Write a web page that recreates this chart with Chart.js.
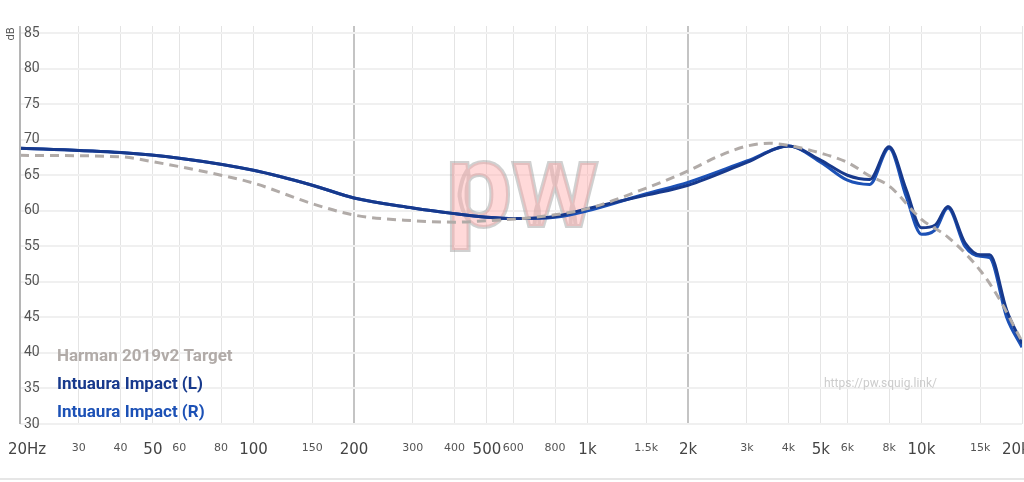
<!DOCTYPE html>
<html>
<head>
<meta charset="utf-8">
<script src="https://cdn.jsdelivr.net/npm/chart.js@4.4.1/dist/chart.umd.min.js"></script>
<style>
  html, body { margin: 0; padding: 0; background: #fff; }
  canvas { display: block; }
</style>
</head>
<body>
<canvas id="fr" width="1024" height="482"></canvas>
<script>
// Frequency response graph (squig.link style)

const targetFreq = [20, 40, 50, 80, 100, 150, 200, 300, 400, 500, 700, 1000, 1500, 2000, 2500, 3000, 3500, 4000, 5000, 6000, 7000, 8000, 10000, 12000, 15000, 17000, 20000];
const targetDb   = [67.8, 67.6, 66.9, 65.0, 63.9, 61.0, 59.4, 58.6, 58.4, 58.6, 59.1, 60.3, 63.2, 65.6, 67.8, 69.1, 69.5, 69.2, 68.1, 66.8, 64.9, 63.5, 58.8, 56.3, 51.6, 47.8, 41.6];

const measFreq = [20, 40, 60, 100, 150, 200, 300, 400, 500, 600, 800, 1000, 1500, 2000, 3000, 4000, 5000, 6000, 7000, 8000, 9000, 10000, 11000, 12000, 13500, 15000, 16000, 18000, 20000];
const leftDb   = [68.8, 68.2, 67.4, 65.7, 63.6, 61.8, 60.4, 59.6, 59.1, 58.9, 59.2, 60.3, 62.2, 63.6, 66.8, 69.1, 67.1, 65.0, 64.4, 69.0, 63.0, 57.6, 58.0, 60.6, 55.5, 53.8, 53.8, 46.0, 41.3];
const rightDb  = [68.8, 68.2, 67.4, 65.7, 63.6, 61.8, 60.4, 59.6, 59.1, 58.9, 59.1, 60.0, 62.4, 64.0, 67.0, 69.1, 66.8, 64.3, 63.7, 68.8, 62.0, 56.7, 57.3, 60.4, 55.0, 53.6, 53.4, 45.0, 40.8];

const xTicks  = [20, 30, 40, 50, 60, 80, 100, 150, 200, 300, 400, 500, 600, 800, 1000, 1500, 2000, 3000, 4000, 5000, 6000, 8000, 10000, 15000, 20000];
const xLabels = ['20Hz', '30', '40', '50', '60', '80', '100', '150', '200', '300', '400', '500', '600', '800', '1k', '1.5k', '2k', '3k', '4k', '5k', '6k', '8k', '10k', '15k', '20kHz'];
const majorTicks = [20, 50, 100, 200, 500, 1000, 2000, 5000, 10000, 20000];
const yTicks = [30, 35, 40, 45, 50, 55, 60, 65, 70, 75, 80, 85];

const legendNames = ['Harman 2019v2 Target', 'Intuaura Impact (L)', 'Intuaura Impact (R)'];
const COLORS = ['#b1aba8', '#17398c', '#1c51b6'];
const FONT = 'Roboto, "Open Sans", sans-serif';

const pts = (fs, ds) => fs.map((f, i) => ({ x: f, y: ds[i] }));

const overlay = {
  id: 'overlay',
  beforeDatasetsDraw(chart) {
    const { ctx } = chart;
    ctx.save();
    // watermark logo
    ctx.font = 'bold 118px ' + FONT;
    ctx.textAlign = 'center';
    ctx.textBaseline = 'middle';
    ctx.lineWidth = 4;
    ctx.strokeStyle = 'rgba(150,150,150,0.45)';
    ctx.strokeText('pw', 522, 196);
    ctx.fillStyle = 'rgba(255,170,170,0.45)';
    ctx.fillText('pw', 522, 196);
    ctx.restore();
  },
  afterDraw(chart) {
    const { ctx, chartArea: a, scales: { x, y } } = chart;
    ctx.save();
    // y labels inside the area
    ctx.fillStyle = '#555';
    ctx.font = '14px ' + FONT;
    ctx.textAlign = 'left';
    ctx.textBaseline = 'middle';
    yTicks.forEach((v) => ctx.fillText(String(v), 24, y.getPixelForValue(v)));
    // dB label
    ctx.save();
    ctx.translate(11, 34);
    ctx.rotate(-Math.PI / 2);
    ctx.font = '11px ' + FONT;
    ctx.textAlign = 'center';
    ctx.fillText('dB', 0, 0);
    ctx.restore();
    // x labels
    ctx.textBaseline = 'middle';
    xTicks.forEach((f, i) => {
      const major = majorTicks.includes(f);
      ctx.font = (major ? '15px ' : '11px ') + 'DejaVu Sans, sans-serif';
      ctx.fillStyle = major ? '#444' : '#555';
      let px = x.getPixelForValue(f);
      if (i === 0) { ctx.textAlign = 'left'; px = 8; }
      else if (i === xTicks.length - 1) { ctx.textAlign = 'left'; px = 1002; }
      else ctx.textAlign = 'center';
      ctx.fillText(xLabels[i], px, major ? 450 : 448);
    });
    // legend
    ctx.font = 'bold 17px ' + FONT;
    ctx.textAlign = 'left';
    legendNames.forEach((n, i) => {
      ctx.fillStyle = COLORS[i];
      ctx.fillText(n, 57, 357 + i * 28);
    });
    // url
    ctx.font = '12px ' + FONT;
    ctx.fillStyle = '#ccc';
    ctx.fillText('https://pw.squig.link/', 824, 384);
    // axis line + bottom separator
    ctx.strokeStyle = '#b5b5b5';
    ctx.lineWidth = 2;
    ctx.beginPath(); ctx.moveTo(20, 26); ctx.lineTo(20, a.bottom); ctx.stroke();
    ctx.strokeStyle = '#e6e6e6';
    ctx.beginPath(); ctx.moveTo(0, 479); ctx.lineTo(1024, 479); ctx.stroke();
    ctx.restore();
  },
};

new Chart(document.getElementById('fr'), {
  type: 'line',
  data: {
    datasets: [
      { label: legendNames[0], data: pts(targetFreq, targetDb), borderColor: COLORS[0], borderDash: [9, 6], borderWidth: 3, pointRadius: 0, cubicInterpolationMode: 'monotone' },
      { label: legendNames[1], data: pts(measFreq, leftDb), borderColor: COLORS[1], borderWidth: 3, pointRadius: 0, cubicInterpolationMode: 'monotone' },
      { label: legendNames[2], data: pts(measFreq, rightDb), borderColor: COLORS[2], borderWidth: 3, pointRadius: 0, cubicInterpolationMode: 'monotone' },
    ],
  },
  options: {
    responsive: false,
    animation: false,
    layout: { padding: { left: 20, right: 2, top: 26, bottom: 58 } },
    plugins: { legend: { display: false }, tooltip: { enabled: false } },
    scales: {
      x: {
        type: 'logarithmic', min: 20, max: 20000,
        afterBuildTicks: (s) => { s.ticks = xTicks.map((v) => ({ value: v })); },
        ticks: { display: false },
        border: { display: false },
        grid: {
          color: (c) => ([200, 2000].includes(c.tick && c.tick.value) ? '#c4c4c4' : '#e4e4e4'),
          lineWidth: (c) => ([200, 2000].includes(c.tick && c.tick.value) ? 2 : 1),
          drawTicks: false,
        },
      },
      y: {
        min: 30, max: 86,
        afterBuildTicks: (s) => { s.ticks = yTicks.map((v) => ({ value: v })); },
        ticks: { display: false },
        border: { display: false },
        grid: { color: '#f0f0f0', lineWidth: 2, drawTicks: false },
      },
    },
  },
  plugins: [overlay],
});
</script>
</body>
</html>
